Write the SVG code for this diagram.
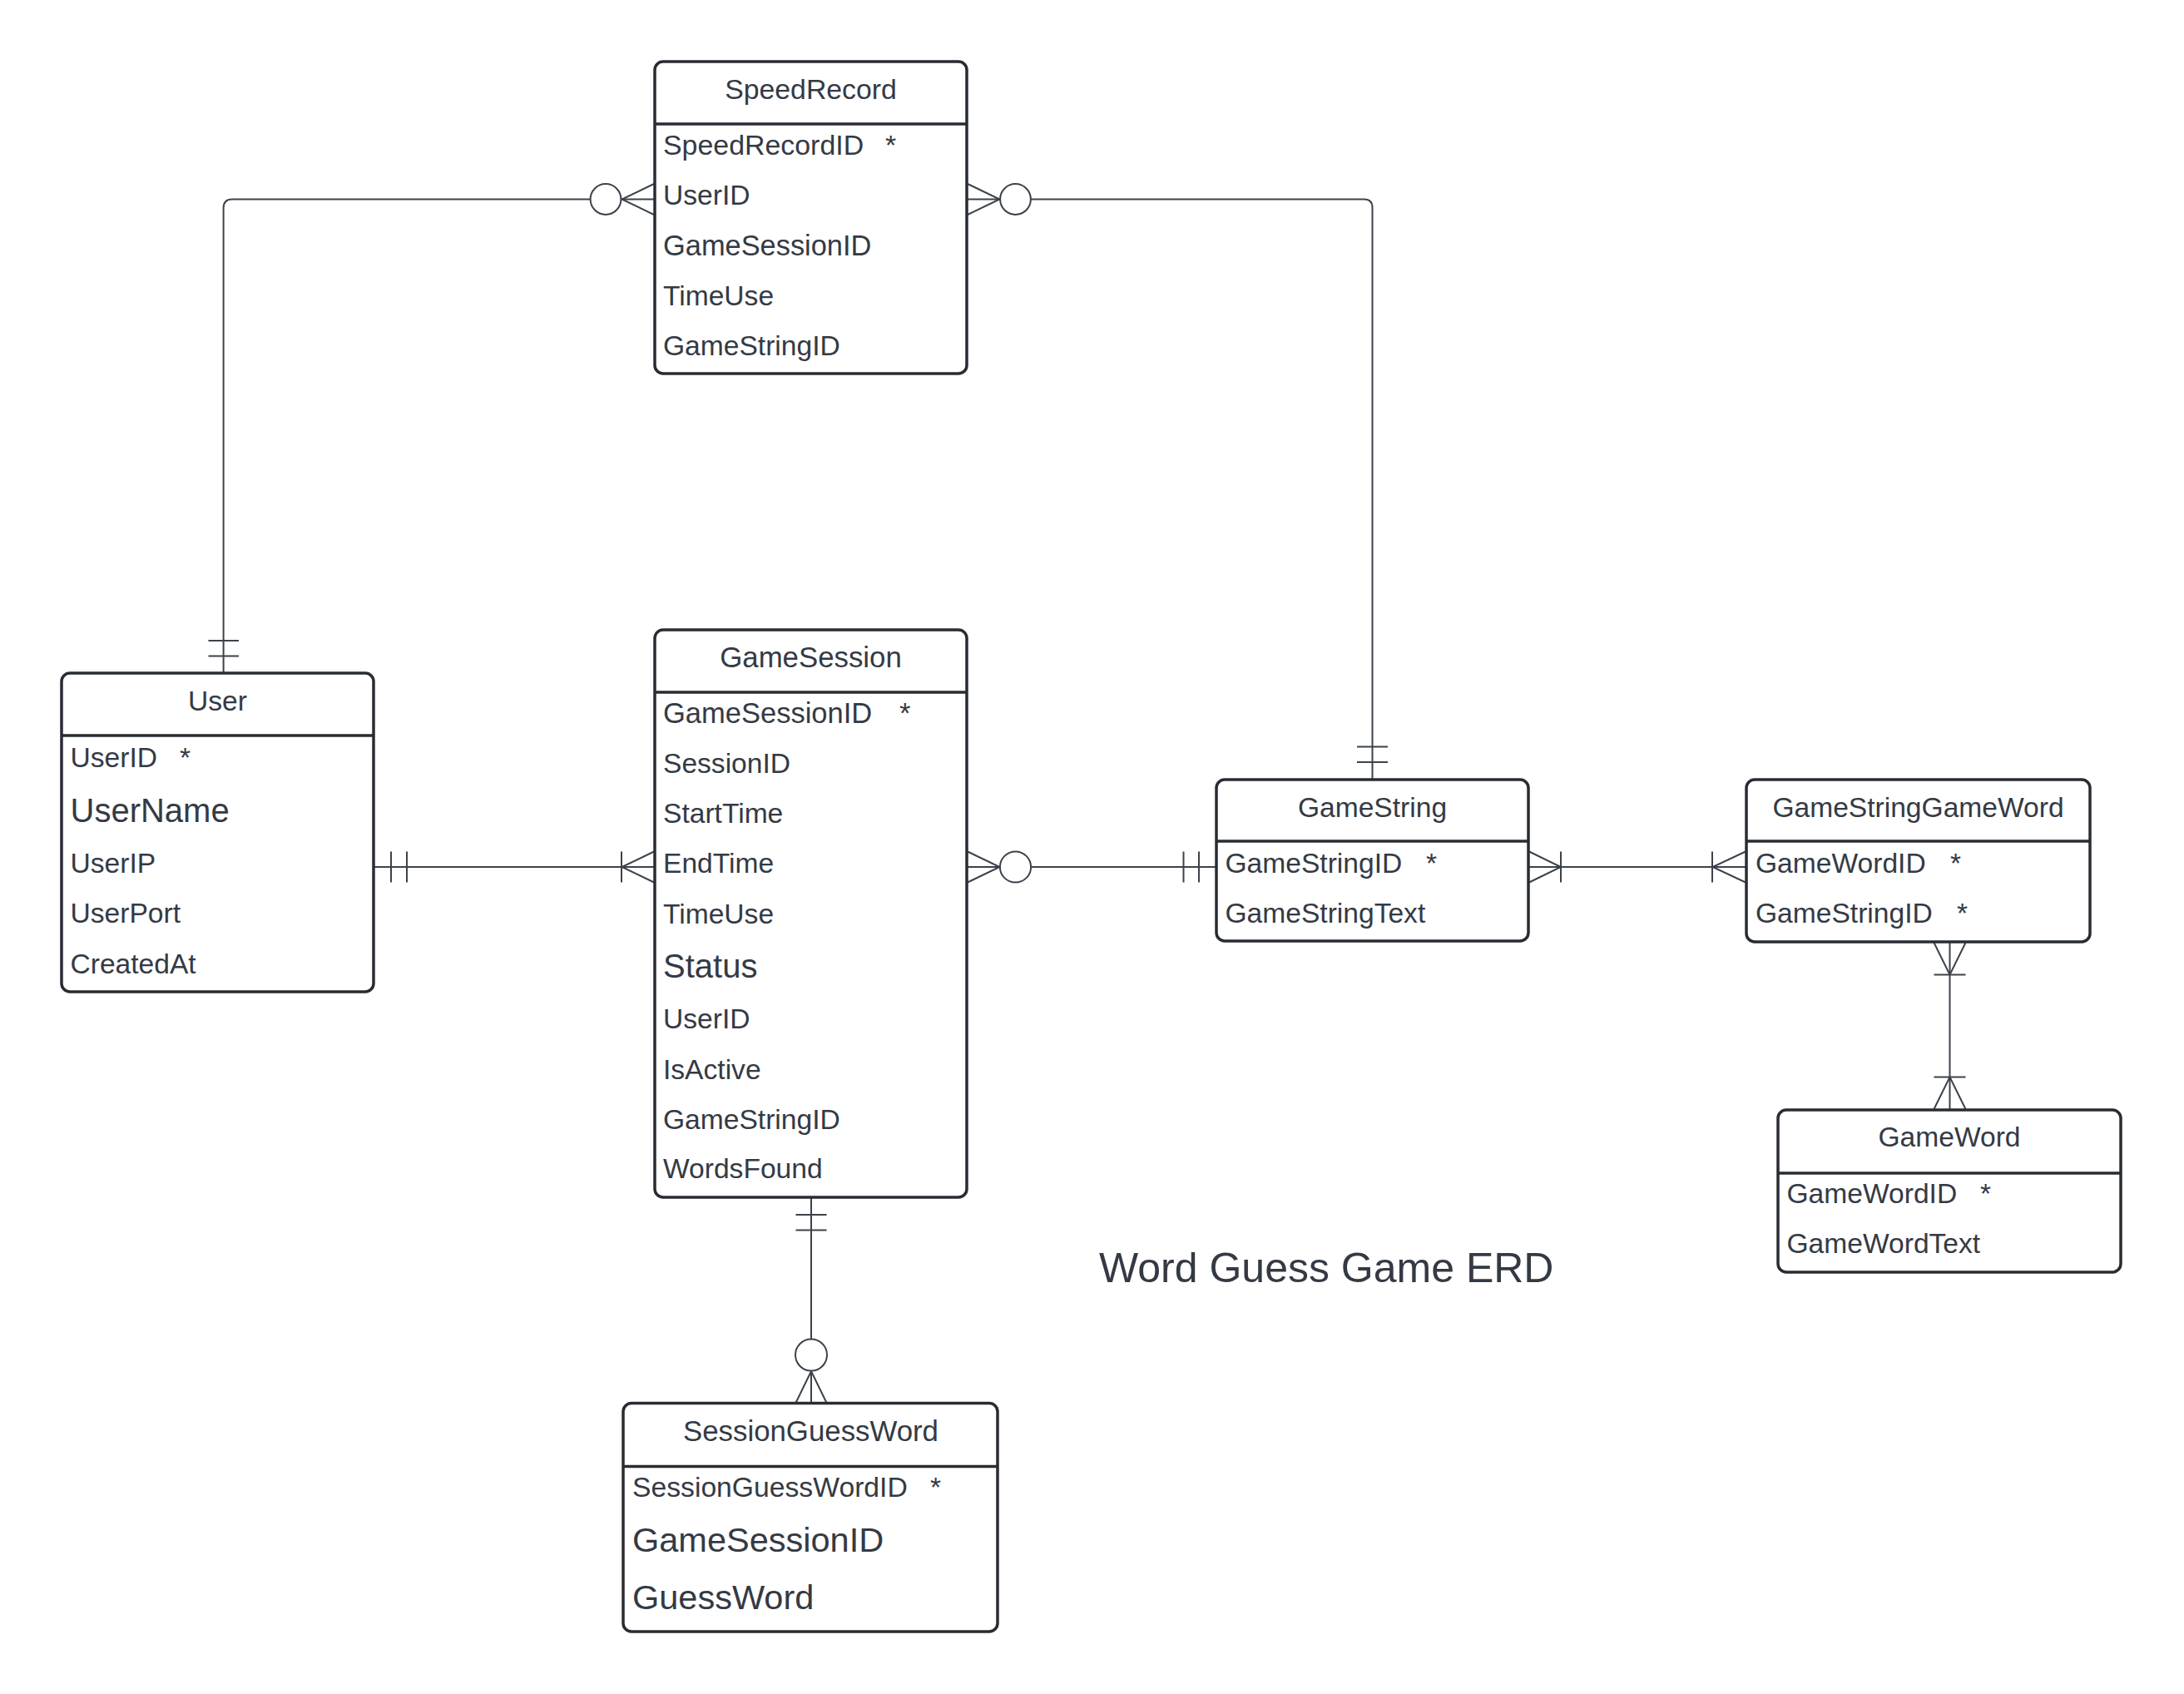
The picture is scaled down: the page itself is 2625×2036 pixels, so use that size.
<svg xmlns="http://www.w3.org/2000/svg" width="2625" height="2036" viewBox="0 0 2625 2036">
<style>
.bg{fill:#ffffff}
.box{fill:#ffffff;stroke:#282c33;stroke-width:3.5}
.hdr{stroke:#282c33;stroke-width:3.5;fill:none}
.t{font-family:"Liberation Sans",Arial,sans-serif;font-size:33.6px;fill:#343a44}
.c{text-anchor:middle}
.big{font-size:40px}
.big2{font-size:41.5px}
.ln{stroke:#3c424b;stroke-width:2;fill:none}
.o{fill:#ffffff;stroke:#3c424b;stroke-width:2}
.main{font-family:"Liberation Sans",Arial,sans-serif;font-size:50px;fill:#343a44}
</style>
<rect class="bg" x="0" y="0" width="2625" height="2036"/>

<g id="connectors">
  <g id="c-user-speedrecord">
    <path class="ln" d="M268.6 809 V250 Q268.6 239.5 279 239.5 H786"/>
    <path class="ln" d="M250.5 770 H287 M250.5 788.5 H287"/>
    <path class="ln" d="M786 221 L747.5 239.5 L786 258"/>
    <circle class="o" cx="728" cy="239.5" r="18.4"/>
  </g>
  <g id="c-speedrecord-gamestring">
    <path class="ln" d="M1162 239.5 H1639.5 Q1649.5 239.5 1649.5 249.5 V937"/>
    <path class="ln" d="M1163 221 L1201.5 239.5 L1163 258"/>
    <circle class="o" cx="1220.5" cy="239.5" r="18.4"/>
    <path class="ln" d="M1631 897.5 H1668 M1631 916 H1668"/>
  </g>
  <g id="c-user-gamesession">
    <path class="ln" d="M449 1042 H787"/>
    <path class="ln" d="M470 1023.5 V1060.5 M489 1023.5 V1060.5"/>
    <path class="ln" d="M747 1023.5 V1060.5 M786 1023.5 L747.5 1042 L786 1060.5"/>
  </g>
  <g id="c-gamesession-gamestring">
    <path class="ln" d="M1162 1042 H1462"/>
    <path class="ln" d="M1163 1023.5 L1201.5 1042 L1163 1060.5"/>
    <circle class="o" cx="1220.5" cy="1042" r="18.6"/>
    <path class="ln" d="M1422.5 1023.5 V1060.5 M1441 1023.5 V1060.5"/>
  </g>
  <g id="c-gamestring-gsgw">
    <path class="ln" d="M1837 1042 H2099"/>
    <path class="ln" d="M1838 1023.5 L1876 1042 L1838 1060.5 M1876 1023.5 V1060.5"/>
    <path class="ln" d="M2058 1023.5 V1060.5 M2098 1023.5 L2058.5 1042 L2098 1060.5"/>
  </g>
  <g id="c-gsgw-gameword">
    <path class="ln" d="M2343.5 1132 V1334"/>
    <path class="ln" d="M2324.5 1133 L2343.5 1171.5 L2362.5 1133 M2324.5 1171.5 H2362.5"/>
    <path class="ln" d="M2324.5 1294.5 H2362.5 M2324.5 1333 L2343.5 1294.5 L2362.5 1333"/>
  </g>
  <g id="c-gamesession-sgw">
    <path class="ln" d="M975 1439 V1686"/>
    <path class="ln" d="M956.5 1460 H993.5 M956.5 1478.5 H993.5"/>
    <path class="ln" d="M956.5 1686 L975 1648 L993.5 1686"/>
    <circle class="o" cx="975" cy="1628.5" r="19"/>
  </g>
</g>

<g id="SpeedRecord">
  <rect class="box" x="787" y="74" width="375" height="375" rx="10"/>
  <path class="hdr" d="M787 149 H1162"/>
  <text class="t c" x="974.5" y="119" style="font-size:33.8px">SpeedRecord</text>
  <text class="t" x="797" y="185.5" style="font-size:33.9px">SpeedRecordID<tspan x="1064">*</tspan></text>
  <text class="t" x="797" y="246.3">UserID</text>
  <text class="t" x="797" y="306.8" style="font-size:34.4px">GameSessionID</text>
  <text class="t" x="797" y="366.8">TimeUse</text>
  <text class="t" x="797" y="426.8">GameStringID</text>
</g>

<g id="User">
  <rect class="box" x="74" y="809" width="375" height="383" rx="10"/>
  <path class="hdr" d="M74 884 H449"/>
  <text class="t c" x="261.5" y="854.3">User</text>
  <text class="t" x="84.5" y="922.3">UserID<tspan x="216">*</tspan></text>
  <text class="t big" x="84.5" y="988.3">UserName</text>
  <text class="t" x="84.5" y="1048.5">UserIP</text>
  <text class="t" x="84.5" y="1109.3">UserPort</text>
  <text class="t" x="84.5" y="1169.6">CreatedAt</text>
</g>

<g id="GameSession">
  <rect class="box" x="787" y="757" width="375" height="682" rx="10"/>
  <path class="hdr" d="M787 832 H1162"/>
  <text class="t c" x="974.5" y="801.5" style="font-size:34.8px">GameSession</text>
  <text class="t" x="797" y="869" style="font-size:34.5px">GameSessionID<tspan x="1081">*</tspan></text>
  <text class="t" x="797" y="929.3">SessionID</text>
  <text class="t" x="797" y="989.3">StartTime</text>
  <text class="t" x="797" y="1049.3">EndTime</text>
  <text class="t" x="797" y="1109.8">TimeUse</text>
  <text class="t big" x="797" y="1175.3">Status</text>
  <text class="t" x="797" y="1235.8">UserID</text>
  <text class="t" x="797" y="1296.8">IsActive</text>
  <text class="t" x="797" y="1356.8">GameStringID</text>
  <text class="t" x="797" y="1416.3">WordsFound</text>
</g>

<g id="GameString">
  <rect class="box" x="1462" y="937" width="375" height="194" rx="10"/>
  <path class="hdr" d="M1462 1011 H1837"/>
  <text class="t c" x="1649.5" y="981.7">GameString</text>
  <text class="t" x="1472.5" y="1048.8">GameStringID<tspan x="1714">*</tspan></text>
  <text class="t" x="1472.5" y="1109.3">GameStringText</text>
</g>

<g id="GameStringGameWord">
  <rect class="box" x="2099" y="937" width="413" height="195" rx="10"/>
  <path class="hdr" d="M2099 1011 H2512"/>
  <text class="t c" x="2305.5" y="981.7">GameStringGameWord</text>
  <text class="t" x="2110" y="1048.8">GameWordID<tspan x="2344">*</tspan></text>
  <text class="t" x="2110" y="1109.3">GameStringID<tspan x="2352">*</tspan></text>
</g>

<g id="GameWord">
  <rect class="box" x="2137" y="1334" width="412" height="195" rx="10"/>
  <path class="hdr" d="M2137 1410 H2549"/>
  <text class="t c" x="2343" y="1378.3">GameWord</text>
  <text class="t" x="2147.5" y="1445.5">GameWordID<tspan x="2380">*</tspan></text>
  <text class="t" x="2147.5" y="1506">GameWordText</text>
</g>

<g id="SessionGuessWord">
  <rect class="box" x="749" y="1686.5" width="450" height="274.5" rx="10"/>
  <path class="hdr" d="M749 1762.5 H1199"/>
  <text class="t c" x="974.5" y="1732" style="font-size:34.8px">SessionGuessWord</text>
  <text class="t" x="760" y="1798.8" style="font-size:33.7px">SessionGuessWordID<tspan x="1118">*</tspan></text>
  <text class="t big2" x="760" y="1864.8">GameSessionID</text>
  <text class="t big2" x="760" y="1934.2">GuessWord</text>
</g>

<g id="diagram-title">
  <text class="main" x="1321" y="1540.5">Word Guess Game ERD</text>
</g>
</svg>
